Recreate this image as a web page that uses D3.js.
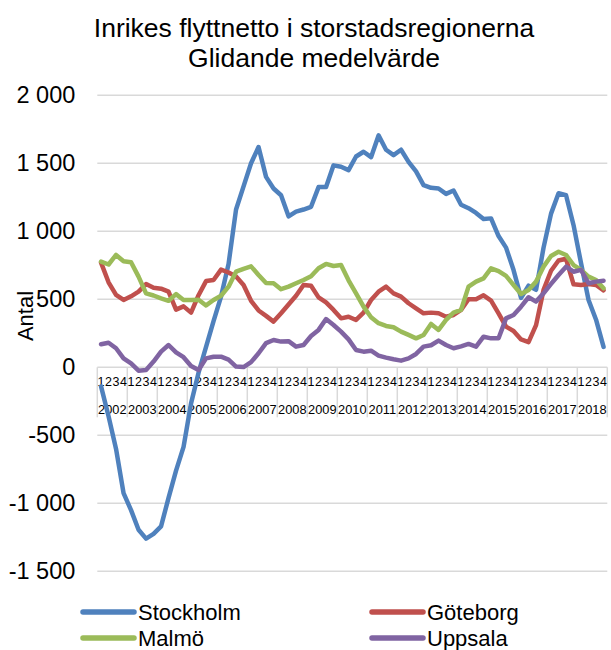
<!DOCTYPE html>
<html>
<head>
<meta charset="utf-8">
<script src="https://cdn.jsdelivr.net/npm/d3@7"></script>
<style>
  body { margin: 0; background: #fff; }
  svg { font-family: "Liberation Sans", Arial, sans-serif; }
</style>
</head>
<body>
<svg id="chart" width="611" height="650"></svg>
<script>
const years = ["2002","2003","2004","2005","2006","2007","2008","2009","2010","2011","2012","2013","2014","2015","2016","2017","2018"]
const quarterLabels = ["1","2","3","4"]
const seriesNames = ["Stockholm", "Göteborg", "Malmö", "Uppsala"]
const yTicks = [-1500, -1000, -500, 0, 500, 1000, 1500, 2000]

// glidande medelvärde per kvartal, 2002 K1 - 2018 K4
const stockholm = [-140,-360,-600,-925,-1050,-1195,-1260,-1225,-1170,-960,-760,-585,-265,-40,150,340,
  520,760,1160,1330,1500,1620,1400,1315,1265,1110,1145,1160,1180,1325,1325,1485,
  1475,1450,1550,1585,1545,1705,1600,1560,1600,1510,1440,1340,1320,1315,1275,1300,
  1195,1170,1135,1090,1095,965,880,715,510,600,570,880,1130,1280,1265,1045,765,495,350,150]
const goteborg = [770,625,532,495,522,556,612,585,578,556,424,448,402,530,634,642,
  718,697,667,605,489,418,378,336,397,462,526,605,599,514,477,422,
  360,372,348,402,495,556,593,544,520,471,434,397,402,397,372,385,
  422,500,500,529,490,397,299,267,205,185,310,569,710,785,798,610,605,613,605,566]
const malmo = [777,756,826,780,773,667,544,528,507,489,538,495,495,497,455,495,
  526,593,703,724,742,679,620,618,574,593,618,642,670,728,760,745,
  752,640,544,446,368,324,304,294,262,238,213,238,319,275,348,402,
  422,593,630,654,728,708,672,605,539,569,630,740,819,850,826,752,716,667,642,581]
const uppsala = [169,181,140,66,29,-25,-20,42,115,164,110,74,10,-20,66,78,
  78,56,5,2,38,103,178,201,189,192,152,164,230,275,355,311,
  262,205,127,115,122,86,71,59,49,66,98,152,162,196,164,140,
  154,172,152,225,213,213,360,385,446,515,483,544,613,679,740,703,716,618,630,637]

const colors = ["#4F81BD", "#C0504D", "#9BBB59", "#8064A2"]
const allSeries = [stockholm, goteborg, malmo, uppsala]

const svg = d3.select("#chart")
const plotLeft = 97.3, plotRight = 607.3, plotTop = 95.3, plotBottom = 571.3

const quarters = []
years.forEach(yr => quarterLabels.forEach(q => quarters.push(yr + "-" + q)))

const x = d3.scaleBand().domain(quarters).range([plotLeft, plotRight]).padding(0)
const xYear = d3.scaleBand().domain(years).range([plotLeft, plotRight]).padding(0)
const y = d3.scaleLinear().domain([-1500, 2000]).range([plotBottom, plotTop])

const sv = d3.formatLocale({decimal: ",", thousands: " ", grouping: [3], currency: ["", " kr"], minus: "-"})
const fmt = sv.format(",d")

// Titel
svg.append("text").attr("x", 314).attr("y", 37).attr("text-anchor", "middle")
  .style("font-size", "26.5px").attr("fill", "#000").text("Inrikes flyttnetto i storstadsregionerna")
svg.append("text").attr("x", 314).attr("y", 67).attr("text-anchor", "middle")
  .style("font-size", "26.5px").attr("fill", "#000").text("Glidande medelvärde")

// Stödlinjer
svg.append("g").selectAll("line").data(yTicks.filter(d => d !== 0)).join("line")
  .attr("x1", plotLeft).attr("x2", plotRight)
  .attr("y1", d => y(d)).attr("y2", d => y(d))
  .attr("stroke", "#d9d9d9").attr("stroke-width", 1.5)

// Y-axel
const yAxis = svg.append("g").attr("transform", `translate(${plotLeft},0)`)
  .call(d3.axisLeft(y).tickValues(yTicks).tickFormat(fmt).tickSize(0).tickPadding(22))
yAxis.select(".domain").remove()
yAxis.selectAll("text").style("font-size", "23.5px").attr("fill", "#000").attr("font-family", null)

svg.append("text")
  .attr("transform", "translate(33,316) rotate(-90)")
  .attr("text-anchor", "middle")
  .style("font-size", "22px").attr("fill", "#000").text("Antal")

// Kategoriaxel vid noll
const y0 = y(0)
svg.append("line").attr("x1", plotLeft).attr("x2", plotRight).attr("y1", y0).attr("y2", y0)
  .attr("stroke", "#d9d9d9").attr("stroke-width", 1.5)
svg.append("g").selectAll("line").data(years.concat(["end"])).join("line")
  .attr("x1", (d, i) => i < years.length ? xYear(d) : plotRight)
  .attr("x2", (d, i) => i < years.length ? xYear(d) : plotRight)
  .attr("y1", y0).attr("y2", y0 + 50)
  .attr("stroke", "#d9d9d9").attr("stroke-width", 1.5)

svg.append("g").selectAll("text").data(quarters).join("text")
  .attr("x", d => x(d) + x.bandwidth() / 2)
  .attr("y", y0 + 19)
  .attr("text-anchor", "middle")
  .style("font-size", "12.5px").attr("fill", "#000")
  .text(d => d.split("-")[1])

svg.append("g").selectAll("text").data(years).join("text")
  .attr("x", d => xYear(d) + xYear.bandwidth() / 2)
  .attr("y", y0 + 47)
  .attr("text-anchor", "middle")
  .style("font-size", "12.8px").attr("fill", "#000")
  .text(d => d)

// Linjer
const line = d3.line()
  .x((d, i) => x(quarters[i]) + x.bandwidth() / 2)
  .y(d => y(d))

svg.append("g").selectAll("path").data(allSeries).join("path")
  .attr("d", d => line(d))
  .attr("fill", "none")
  .attr("stroke", (d, i) => colors[i])
  .attr("stroke-width", 4.5)
  .attr("stroke-linejoin", "round")
  .attr("stroke-linecap", "round")

// Förklaring
const legendPos = [[83, 612], [372, 612], [83, 638], [372, 638]]
const legend = svg.append("g").selectAll("g").data(seriesNames).join("g")
  .attr("transform", (d, i) => `translate(${legendPos[i][0]},${legendPos[i][1]})`)
legend.append("line").attr("x1", 0).attr("x2", 51).attr("y1", 0).attr("y2", 0)
  .attr("stroke", (d, i) => colors[i]).attr("stroke-width", 5.5).attr("stroke-linecap", "round")
legend.append("text").attr("x", 55).attr("y", 8)
  .style("font-size", "22px").attr("fill", "#000").text(d => d)
</script>
</body>
</html>
